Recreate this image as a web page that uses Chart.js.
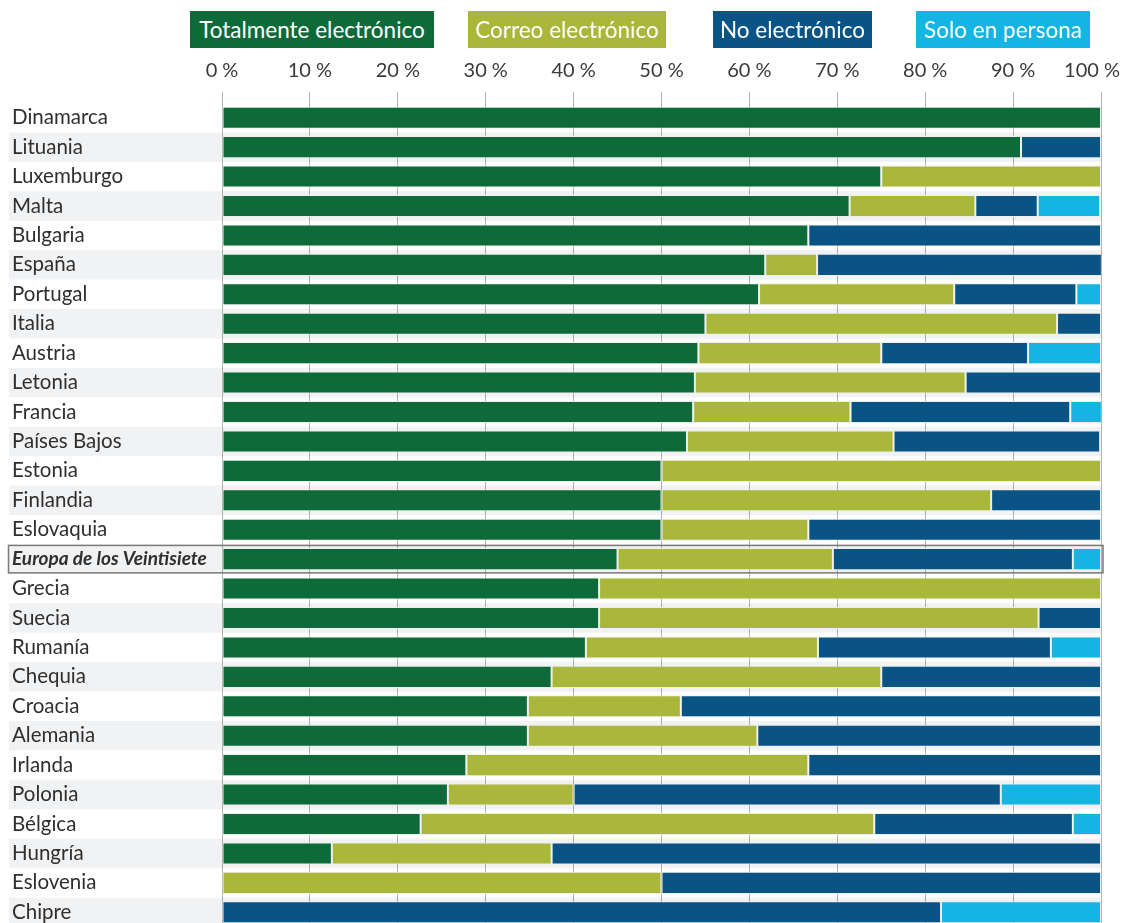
<!DOCTYPE html>
<html lang="es">
<head>
<meta charset="utf-8">
<title>Tipo de procedimiento</title>
<script src="https://cdn.jsdelivr.net/npm/chart.js@4/dist/chart.umd.min.js"></script>
<style>
	html, body { margin: 0; padding: 0; background: #fff; overflow: hidden; }
	#wrap { position: relative; width: 1123px; height: 930px; }
	#chart { position: absolute; left: 0; top: 0; }
	.key {
		position: absolute; top: 11px; height: 37px; line-height: 37px;
		color: #fff; font-family: Lato, "Open Sans", sans-serif; font-size: 22.5px;
		text-align: center; white-space: nowrap;
	}
</style>
</head>
<body>
<div id="wrap">
	<canvas id="chart" width="1123" height="930"></canvas>
	<div class="key" style="left:190px;width:244px;background:#0f6a3a">Totalmente electrónico</div>
	<div class="key" style="left:468px;width:198px;background:#a9b83a">Correo electrónico</div>
	<div class="key" style="left:713px;width:159px;background:#0a5485">No electrónico</div>
	<div class="key" style="left:916px;width:174px;background:#14b4e3">Solo en persona</div>
</div>
<script>
	"use strict"

	var categories = [
		"Dinamarca", "Lituania", "Luxemburgo", "Malta", "Bulgaria", "España", "Portugal",
		"Italia", "Austria", "Letonia", "Francia", "Países Bajos", "Estonia", "Finlandia",
		"Eslovaquia", "Europa de los Veintisiete", "Grecia", "Suecia", "Rumanía", "Chequia",
		"Croacia", "Alemania", "Irlanda", "Polonia", "Bélgica", "Hungría", "Eslovenia", "Chipre",
	]
	var totalmente = [100, 90.9, 75, 71.4, 66.7, 61.8, 61.1, 55, 54.2, 53.8, 53.6, 52.9, 50, 50, 50, 45.0, 42.9, 42.9, 41.4, 37.5, 34.8, 34.8, 27.8, 25.7, 22.6, 12.5, 0, 0]
	var correo = [0, 0, 25, 14.3, 0, 5.9, 22.2, 40, 20.8, 30.8, 17.9, 23.5, 50, 37.5, 16.7, 24.5, 57.1, 50, 26.4, 37.5, 17.4, 26.1, 38.9, 14.3, 51.6, 25, 50, 0]
	var noElectronico = [0, 9.1, 0, 7.1, 33.3, 32.4, 13.9, 5, 16.7, 15.4, 25, 23.5, 0, 12.5, 33.3, 27.3, 0, 7.1, 26.5, 25, 47.8, 39.1, 33.3, 48.6, 22.6, 62.5, 50, 81.8]
	var soloPersona = [0, 0, 0, 7.1, 0, 0, 2.8, 0, 8.3, 0, 3.6, 0, 0, 0, 0, 3.2, 0, 0, 5.7, 0, 0, 0, 0, 11.4, 3.2, 0, 0, 18.2]
	var xTicks = [0, 10, 20, 30, 40, 50, 60, 70, 80, 90, 100]

	var GREEN = "#0f6a3a"
	var LIME = "#a9b83a"
	var NAVY = "#0a5485"
	var CYAN = "#14b4e3"
	var BAND = "#f1f2f4"
	var EU_INDEX = categories.indexOf("Europa de los Veintisiete")

	function series(label, values, color) {
		return {
			label: label,
			data: values.map(function (v) { return v > 0 ? v : null }),
			backgroundColor: color,
			borderColor: "rgba(236,238,236,0.95)",
			borderWidth: 1,
			borderSkipped: false,
			barPercentage: 0.75,
			categoryPercentage: 1,
		}
	}

	// zebra rows (under everything), outline round the EU row, top tick labels
	var rowsPlugin = {
		id: "rows",
		beforeDraw: function (chart) {
			var c = chart.ctx, y = chart.scales.y, area = chart.chartArea
			var h = (area.bottom - area.top) / categories.length
			c.save()
			c.fillStyle = BAND
			categories.forEach(function (_, i) {
				if (i % 2 === 1) {
					var yc = y.getPixelForValue(i)
					c.fillRect(9, yc - h / 2, area.right - 9, h)
				}
			})
			c.restore()
		},
		afterDraw: function (chart) {
			var c = chart.ctx, x = chart.scales.x, y = chart.scales.y, area = chart.chartArea
			var h = (area.bottom - area.top) / categories.length
			var yc = y.getPixelForValue(EU_INDEX)
			c.save()
			c.strokeStyle = "#7a7a7a"
			c.lineWidth = 1.5
			c.strokeRect(8.5, yc - h / 2 + 1, area.right + 2 - 8.5, h - 2)

			// tick labels, the last one kept inside the page
			c.font = "20px Lato"
			c.fillStyle = "#3a3a3a"
			c.textAlign = "center"
			c.textBaseline = "middle"
			xTicks.forEach(function (v) {
				var t = v + " %"
				var w = c.measureText(t).width
				var px = Math.min(x.getPixelForValue(v), chart.width - 3 - w / 2)
				c.fillText(t, px, 71)
			})
			c.restore()
		},
	}

	new Chart(document.getElementById("chart"), {
		type: "bar",
		data: {
			labels: categories,
			datasets: [
				series("Totalmente electrónico", totalmente, GREEN),
				series("Correo electrónico", correo, LIME),
				series("No electrónico", noElectronico, NAVY),
				series("Solo en persona", soloPersona, CYAN),
			],
		},
		options: {
			indexAxis: "y",
			responsive: false,
			animation: false,
			layout: { padding: { left: 12, right: 22, top: 0, bottom: 3 } },
			plugins: { legend: { display: false }, tooltip: { enabled: false } },
			scales: {
				x: {
					position: "top",
					stacked: true,
					min: 0,
					max: 100,
					z: 1,
					afterBuildTicks: function (s) {
						s.ticks = xTicks.map(function (v) { return { value: v } })
					},
					afterFit: function (s) {
						s.height = 103
						s.paddingLeft = 0
						s.paddingRight = 0
					},
					ticks: { display: false },
					grid: { color: "rgba(0,0,0,0.3)", lineWidth: 1, tickLength: 11, drawTicks: true },
					border: { display: false },
				},
				y: {
					stacked: true,
					afterFit: function (s) {
						s.width = 210
						s.paddingTop = 0
						s.paddingBottom = 0
					},
					ticks: {
						crossAlign: "far",
						padding: 0,
						autoSkip: false,
						color: "#2f2f2f",
						font: function (ctx) {
							return ctx.index === EU_INDEX
								? { family: "Lato", size: 19, weight: "bold", style: "italic" }
								: { family: "Lato", size: 20.5 }
						},
					},
					grid: { display: false },
					border: { display: false },
				},
			},
		},
		plugins: [rowsPlugin],
	})
</script>
</body>
</html>
